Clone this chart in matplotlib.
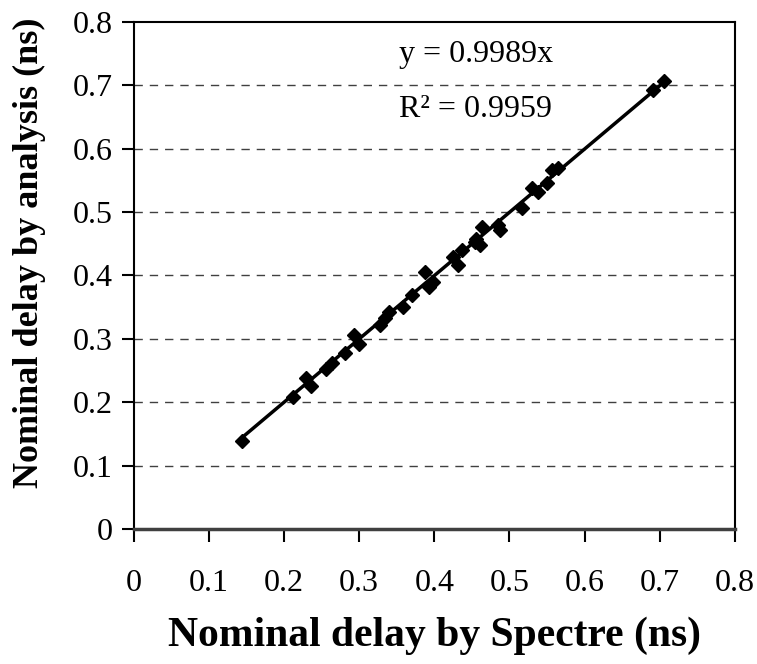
import matplotlib.pyplot as plt
import numpy as np

plt.rcParams['font.family'] = ['Liberation Serif', 'DejaVu Serif']

# nominal delays (ns): x = Spectre, y = analysis
spectre = [0.144, 0.2125, 0.229, 0.236, 0.256, 0.264, 0.281, 0.293, 0.300,
           0.328, 0.334, 0.340, 0.359, 0.370, 0.388, 0.393, 0.398, 0.425,
           0.432, 0.437, 0.454, 0.456, 0.461, 0.463, 0.485, 0.487, 0.516,
           0.530, 0.538, 0.550, 0.556, 0.565, 0.691, 0.705]
analysis = [0.139, 0.208, 0.238, 0.226, 0.253, 0.262, 0.278, 0.306, 0.292,
            0.322, 0.333, 0.342, 0.350, 0.369, 0.406, 0.381, 0.390, 0.429,
            0.416, 0.440, 0.453, 0.458, 0.448, 0.477, 0.479, 0.472, 0.506,
            0.537, 0.532, 0.545, 0.566, 0.569, 0.692, 0.707]
slope = 0.9989
r2 = 0.9959
ticks = [0, 0.1, 0.2, 0.3, 0.4, 0.5, 0.6, 0.7, 0.8]
tick_labels = ['0', '0.1', '0.2', '0.3', '0.4', '0.5', '0.6', '0.7', '0.8']

fig = plt.figure(figsize=(7.57, 6.64), dpi=100)
ax = fig.add_axes([0.1764, 0.2033, 0.7946, 0.764])

ax.plot(spectre, analysis, linestyle='none', marker='D', markersize=7.5,
        color='black', zorder=3)
xl = np.array([min(spectre), max(spectre)])
ax.plot(xl, slope * xl, color='black', lw=2.5, zorder=4)

ax.set_xlim(0, 0.8)
ax.set_ylim(0, 0.8)
ax.set_xticks(ticks)
ax.set_xticklabels(tick_labels)
ax.set_yticks(ticks)
ax.set_yticklabels(tick_labels)
ax.tick_params(direction='out', length=9, width=1.5, labelsize=23)
ax.tick_params(axis='x', pad=20)
ax.tick_params(axis='y', pad=6)

for y in ticks[1:-1]:
    ax.axhline(y, color='#404040', lw=1, dashes=(6, 5), zorder=1)

for s in ax.spines.values():
    s.set_linewidth(1.5)
ax.spines['bottom'].set_color('#404040')
ax.spines['bottom'].set_linewidth(2.5)

ax.text(0.455, 0.748, 'y = %.4fx' % slope, fontsize=23, ha='center', va='center')
ax.text(0.455, 0.662, 'R² = %.4f' % r2, fontsize=23, ha='center', va='center')

ax.set_xlabel('Nominal delay by Spectre (ns)', fontsize=30, fontweight='bold')
ax.xaxis.set_label_coords(0.5, -0.172)
ax.set_ylabel('Nominal delay by analysis (ns)', fontsize=26, fontweight='bold')
ax.yaxis.set_label_coords(-0.145, 0.544)

fig.savefig('out.png', dpi=100)
